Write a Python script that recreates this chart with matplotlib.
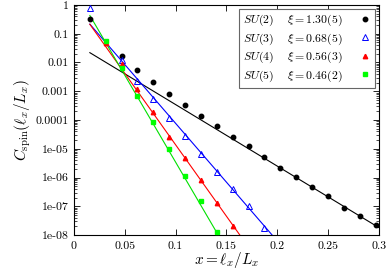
import numpy as np
import matplotlib
matplotlib.use("Agg")
import matplotlib.pyplot as plt
from matplotlib.ticker import FixedLocator, FixedFormatter, LogLocator, NullFormatter

plt.rcParams["font.family"] = "serif"
plt.rcParams["font.serif"] = ["cmr10", "DejaVu Serif"]
plt.rcParams["mathtext.fontset"] = "cm"
plt.rcParams["axes.unicode_minus"] = False

# データ (x = l_x / L_x, L_x = 64)
x_su2 = [1, 3, 4, 5, 6, 7, 8, 9, 10, 11, 12, 13, 14, 15, 16, 17, 18, 19]
y_su2 = [0.32, 0.017, 0.0055, 0.0021, 0.00078, 0.00033, 0.000138, 6.2e-5, 2.6e-5,
         1.2e-5, 5.2e-6, 2.2e-6, 1.04e-6, 4.6e-7, 2.2e-7, 8.7e-8, 4.5e-8, 2.3e-8]

x_su3 = [1, 3, 4, 5, 6, 7, 8, 9, 10, 11, 12]
y_su3 = [0.77, 0.012, 0.0023, 0.00052, 0.000117, 2.8e-5, 6.4e-6, 1.6e-6, 4.1e-7,
         1.0e-7, 1.8e-8]

x_su4 = [2, 3, 4, 5, 6, 7, 8, 9, 10]
y_su4 = [0.048, 0.0089, 0.00117, 0.000186, 2.6e-5, 4.9e-6, 8.2e-7, 1.3e-7, 2.1e-8]

x_su5 = [2, 3, 4, 5, 6, 7, 8, 9]
y_su5 = [0.057, 0.0065, 0.00068, 8.3e-5, 9.5e-6, 1.15e-6, 1.55e-7, 1.3e-8]

# フィット C = A exp(-64 x / xi)
labels = [r"$SU(2)\quad\ \xi = 1.30(5)$", r"$SU(3)\quad\ \xi = 0.68(5)$",
          r"$SU(4)\quad\ \xi = 0.56(3)$", r"$SU(5)\quad\ \xi = 0.46(2)$"]
xi_fit = [1.30, 0.68, 0.56, 0.46]
amp_fit = [0.0474, 0.94, 1.27, 3.8]

L = 64.0
colors = ["black", "blue", "red", "#00e000"]
mcolors = ["black", "blue", "red", "#00ff00"]

fig = plt.figure(figsize=(3.88, 2.70), dpi=100)
ax = fig.add_axes([0.1907, 0.1296, 0.7853, 0.8519])

xs = np.linspace(1 / L, 0.3, 400)
for xi, A, c in zip(xi_fit, amp_fit, colors):
    ax.plot(xs, A * np.exp(-L * xs / xi), color=c, lw=0.8, zorder=2)

ax.plot(np.array(x_su2) / L, y_su2, "o", color="black", ms=3.2, ls="none",
        label=labels[0], zorder=3)
ax.plot(np.array(x_su3) / L, y_su3, "^", mfc="none", mec="blue", mew=0.7, ms=4.2,
        ls="none", label=labels[1], zorder=3)
ax.plot(np.array(x_su4) / L, y_su4, "^", color="red", ms=3.2, ls="none",
        label=labels[2], zorder=3)
ax.plot(np.array(x_su5) / L, y_su5, "s", color=mcolors[3], ms=3.5, ls="none",
        label=labels[3], zorder=3)

ax.set_yscale("log")
ax.set_xlim(0, 0.3)
ax.set_ylim(1e-8, 1)

xt = [0, 0.05, 0.1, 0.15, 0.2, 0.25, 0.3]
xt_labels = ["0", "0.05", "0.1", "0.15", "0.2", "0.25", "0.3"]
ax.xaxis.set_major_locator(FixedLocator(xt))
ax.xaxis.set_major_formatter(FixedFormatter(xt_labels))

yt = [1e-8, 1e-7, 1e-6, 1e-5, 1e-4, 1e-3, 1e-2, 1e-1, 1]
yt_labels = ["1e-08", "1e-07", "1e-06", "1e-05", "0.0001", "0.001", "0.01", "0.1", "1"]
ax.yaxis.set_major_locator(FixedLocator(yt))
ax.yaxis.set_major_formatter(FixedFormatter(yt_labels))
ax.yaxis.set_minor_locator(LogLocator(base=10, subs=np.arange(2, 10), numticks=20))
ax.yaxis.set_minor_formatter(NullFormatter())

ax.tick_params(which="both", direction="in", top=True, right=True, labelsize=8.5)
ax.tick_params(which="major", length=4, width=0.6)
ax.tick_params(which="minor", length=2, width=0.5)
ax.tick_params(axis="x", pad=5)
ax.tick_params(axis="y", pad=4)
for s in ax.spines.values():
    s.set_linewidth(0.8)

ax.set_xlabel(r"$x = \ell_x/L_x$", fontsize=11, labelpad=-1)
ax.set_ylabel(r"$C_{\rm spin}(\ell_x/L_x)$", fontsize=11, labelpad=2)

leg = ax.legend(loc="upper right", markerfirst=False, fontsize=8.5, fancybox=False,
                framealpha=1, edgecolor="0.4", handlelength=1.0, handletextpad=1.4,
                borderpad=0.35, labelspacing=0.28, borderaxespad=0.3)
leg.get_frame().set_linewidth(0.8)

fig.savefig("out.png", dpi=100)
